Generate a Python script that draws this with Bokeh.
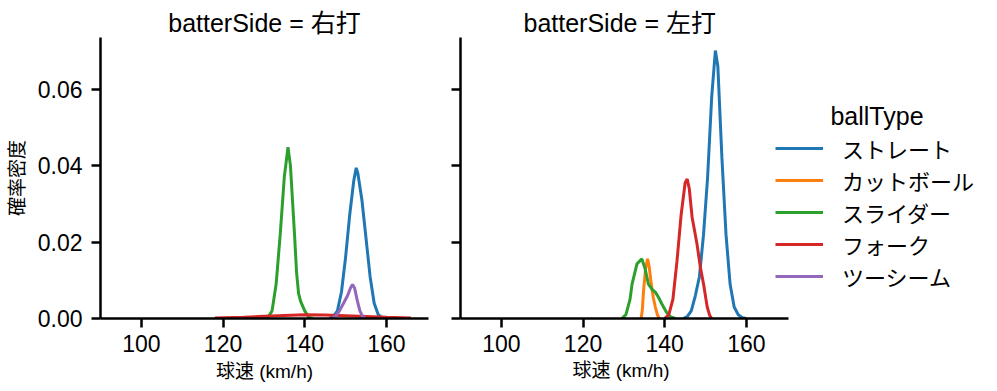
from bokeh.plotting import figure
from bokeh.layouts import row
from bokeh.models import (Range1d, FixedTicker, Legend, LegendItem, PrintfTickFormatter,
                          Label, Title, CustomJSTickFormatter)
from bokeh.embed import file_html
from bokeh.resources import INLINE

FONT = "Liberation Sans, Noto Sans CJK JP"
TXT = "black"
ball_types = ["ストレート", "カットボール", "スライダー", "フォーク", "ツーシーム"]
colors = ["#1f77b4", "#ff7f0e", "#2ca02c", "#d62728", "#9467bd"]

# ---- 右打 (left panel) : speed (km/h) and density ----
r_straight_x = [146, 147, 148, 149, 150, 151, 152, 152.6, 153, 154, 155, 156, 157, 158, 159, 160]
r_straight_y = [0, 0.0005, 0.002, 0.007, 0.016, 0.027, 0.036, 0.0394, 0.038, 0.031, 0.021, 0.011, 0.004, 0.001, 0.0002, 0]
r_slider_x = [130, 131, 132, 133, 134, 135, 135.9, 136.5, 137, 137.5, 138, 138.5, 139, 140, 141, 142]
r_slider_y = [0, 0.0003, 0.002, 0.009, 0.022, 0.037, 0.0448, 0.040, 0.031, 0.022, 0.012, 0.0065, 0.0045, 0.002, 0.0003, 0]
r_fork_x = [118, 125, 130, 135, 140, 145, 150, 155, 160, 166]
r_fork_y = [0.0001, 0.0003, 0.0006, 0.0008, 0.0010, 0.0009, 0.0007, 0.0005, 0.0003, 0.0001]
r_twoseam_x = [146.5, 147.5, 148.5, 149.5, 150.5, 151.2, 151.7, 152.2, 152.8, 153.5, 154.2, 155]
r_twoseam_y = [0, 0.0005, 0.002, 0.004, 0.006, 0.008, 0.0089, 0.008, 0.005, 0.002, 0.0005, 0]

# ---- 左打 (right panel) ----
l_straight_x = [144.5, 145.5, 146.5, 147.5, 148.5, 149.5, 150.5, 151.5, 152.4, 153, 154, 155, 156, 157, 158, 159, 160]
l_straight_y = [0, 0.0005, 0.002, 0.006, 0.011, 0.022, 0.037, 0.058, 0.0701, 0.066, 0.042, 0.022, 0.009, 0.003, 0.001, 0.0002, 0]
l_cutter_x = [134.2, 134.5, 134.8, 135.3, 135.8, 136.2, 136.7, 137.2, 137.7, 138.2, 138.7]
l_cutter_y = [0, 0.002, 0.007, 0.013, 0.0156, 0.0135, 0.009, 0.0055, 0.003, 0.001, 0]
l_slider_x = [129.5, 130.5, 131.5, 132, 133.2, 134.4, 135.2, 136, 137, 137.7, 138.5, 139.3, 140.5, 141.5, 142.6]
l_slider_y = [0, 0.001, 0.005, 0.009, 0.0143, 0.0156, 0.013, 0.009, 0.0075, 0.0069, 0.0055, 0.0038, 0.0015, 0.0004, 0]
l_fork_x = [140, 141, 142, 143, 144, 145, 145.5, 146, 146.7, 147.9, 148.7, 149.5, 150.4, 151, 151.5]
l_fork_y = [0, 0.001, 0.005, 0.015, 0.027, 0.0355, 0.0365, 0.034, 0.0265, 0.0195, 0.0135, 0.009, 0.003, 0.0008, 0]

x_ticks = [100, 120, 140, 160]
y_ticks = [0.0, 0.02, 0.04, 0.06]
X_MIN, X_MAX = 90, 170.3
Y_MIN, Y_MAX = 0, 0.0735

AX_W = 328          # pixel width of each panel's x axis
PX_PER_UNIT = AX_W / (X_MAX - X_MIN)
FIG_H = 390
TOP = 37
BOTTOM = FIG_H - TOP - 281
P1_W = 446
P2_W = 545

panels = [
    ("右打", {0: (r_straight_x, r_straight_y), 2: (r_slider_x, r_slider_y),
             3: (r_fork_x, r_fork_y), 4: (r_twoseam_x, r_twoseam_y)}),
    ("左打", {0: (l_straight_x, l_straight_y), 1: (l_cutter_x, l_cutter_y),
             2: (l_slider_x, l_slider_y), 3: (l_fork_x, l_fork_y)}),
]


def style_axes(p):
    for ax in (p.xaxis[0], p.yaxis[0]):
        ax.axis_line_width = 2.5
        ax.major_tick_line_width = 2.5
        ax.major_tick_out = 9
        ax.major_tick_in = 0
        ax.minor_tick_line_color = None
        ax.major_label_text_font = FONT
        ax.major_label_text_font_size = "23px"
        ax.major_label_text_line_height = 1.0
        ax.axis_label_text_font = FONT
        ax.axis_label_text_font_size = "19px"
        ax.axis_label_text_line_height = 1.0
        ax.axis_label_text_font_style = "normal"
        ax.axis_label_text_color = TXT
        ax.axis_line_color = "black"
        ax.major_tick_line_color = "black"
        ax.major_label_text_color = TXT
    p.xaxis.ticker = FixedTicker(ticks=x_ticks)
    p.yaxis.ticker = FixedTicker(ticks=y_ticks)
    p.yaxis.formatter = PrintfTickFormatter(format="%.2f")
    p.xaxis.major_label_standoff = 7
    p.outline_line_color = None
    p.xgrid.visible = False
    p.ygrid.visible = False


# ---------------- left panel ----------------
side, curves = panels[0]
p1 = figure(width=P1_W, height=FIG_H, output_backend="svg", toolbar_location=None,
            min_border_left=100, min_border_right=18, min_border_top=TOP, min_border_bottom=BOTTOM,
            x_range=Range1d(X_MIN, X_MAX), y_range=Range1d(Y_MIN, Y_MAX))
p1.title.text = f"batterSide = {side}"
p1.title.align = "center"
p1.title.text_font = FONT
p1.title.text_font_size = "25px"
p1.title.text_font_style = "normal"
p1.title.text_color = TXT
p1.title.standoff = 2
for i in range(5):
    if i in curves:
        xs, ys = curves[i]
        p1.line(xs, ys, line_color=colors[i], line_width=3)
style_axes(p1)
p1.xaxis.axis_label = "球速 (km/h)"
p1.xaxis.axis_label_standoff = 6
p1.yaxis.axis_label = "確率密度"
p1.yaxis.major_label_standoff = 9
p1.yaxis.axis_label_standoff = 7

# ---------------- right panel (frame extends under the legend) ----------------
side, curves = panels[1]
p2_frame_w = P2_W - 14
p2 = figure(width=P2_W, height=FIG_H, output_backend="svg", toolbar_location=None,
            min_border_left=14, min_border_right=0, min_border_top=TOP, min_border_bottom=BOTTOM,
            x_range=Range1d(X_MIN, X_MIN + p2_frame_w / PX_PER_UNIT), y_range=Range1d(Y_MIN, Y_MAX))
p2.title = None
p2.add_layout(Title(text=f"batterSide = {side}", align="left", offset=63, standoff=2,
                    text_font=FONT, text_font_size="25px", text_font_style="normal",
                    text_color=TXT), "above")
for i in range(5):
    if i in curves:
        xs, ys = curves[i]
        p2.line(xs, ys, line_color=colors[i], line_width=3)
style_axes(p2)
p2.xaxis.bounds = (X_MIN, X_MAX)
p2.yaxis.formatter = CustomJSTickFormatter(code="return ''")
p2.yaxis.major_label_standoff = 0
p2.add_layout(Title(text="球速 (km/h)", align="left", offset=112, standoff=6,
                    text_font=FONT, text_font_size="19px", text_font_style="normal",
                    text_line_height=1.0, text_color=TXT), "below")

nan = float("nan")
leg_items = []
for i, name in enumerate(ball_types):
    r = p2.line([nan], [nan], line_color=colors[i], line_width=3)
    leg_items.append(LegendItem(label=name, renderers=[r]))
legend = Legend(items=leg_items, location=(315, 26), orientation="vertical",
                glyph_width=48, glyph_height=32, label_height=32, spacing=0,
                label_standoff=19, padding=0, margin=0,
                label_text_font=FONT, label_text_font_size="22px", label_text_color=TXT,
                border_line_color=None, background_fill_alpha=0)
p2.add_layout(legend, "center")
p2.add_layout(Label(x=416.5, y=203, x_units="screen", y_units="screen", text="ballType",
                    text_align="center", text_baseline="middle", text_color=TXT,
                    text_font=FONT, text_font_size="25px"))

layout = row(p1, p2, spacing=0)
open("out.html", "w").write(file_html(layout, INLINE))
